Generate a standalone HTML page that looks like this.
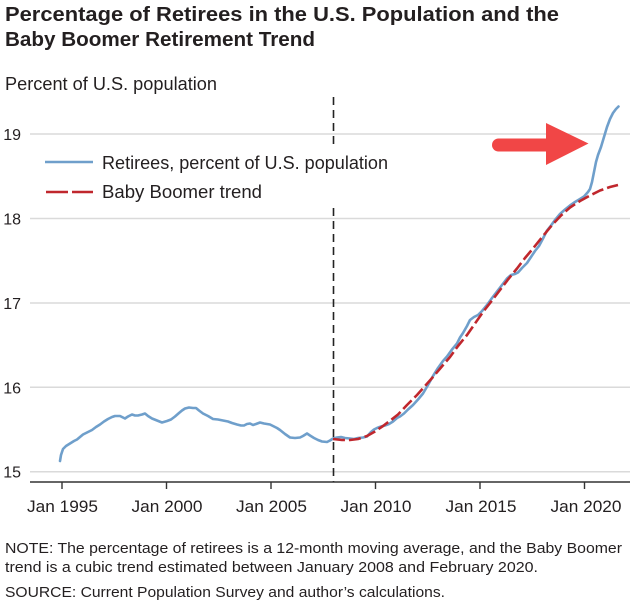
<!DOCTYPE html>
<html>
<head>
<meta charset="utf-8">
<style>
  html,body{margin:0;padding:0;background:#fff;}
  svg{display:block;}
  text{font-family:"Liberation Sans", Arial, sans-serif; fill:#231f20;}
</style>
</head>
<body>
<svg width="630" height="605" viewBox="0 0 630 605" xmlns="http://www.w3.org/2000/svg">
  <!-- Title -->
  <text x="5" y="21" font-size="20" font-weight="bold" textLength="554" lengthAdjust="spacingAndGlyphs">Percentage of Retirees in the U.S. Population and the</text>
  <text x="5" y="46" font-size="20" font-weight="bold" textLength="310" lengthAdjust="spacingAndGlyphs">Baby Boomer Retirement Trend</text>

  <!-- Axis title -->
  <text x="5" y="90" font-size="18" textLength="212" lengthAdjust="spacingAndGlyphs">Percent of U.S. population</text>

  <!-- Gridlines -->
  <g stroke="#dadada" stroke-width="1.5">
    <line x1="30" y1="134" x2="630" y2="134"/>
    <line x1="30" y1="218.5" x2="630" y2="218.5"/>
    <line x1="30" y1="303" x2="630" y2="303"/>
    <line x1="30" y1="387.3" x2="630" y2="387.3"/>
    <line x1="30" y1="471.7" x2="630" y2="471.7"/>
  </g>

  <!-- Y labels -->
  <g font-size="16" text-anchor="end">
    <text x="21" y="140">19</text>
    <text x="21" y="224.5">18</text>
    <text x="21" y="309">17</text>
    <text x="21" y="393.3">16</text>
    <text x="21" y="477.7">15</text>
  </g>

  <!-- Vertical dashed line at Jan 2008 -->
  <g stroke="#222" stroke-width="1.6" stroke-dasharray="8 5">
    <line x1="333.5" y1="97" x2="333.5" y2="147"/>
    <line x1="333.5" y1="208" x2="333.5" y2="482"/>
  </g>

  <!-- X axis -->
  <line x1="30" y1="482" x2="630" y2="482" stroke="#333" stroke-width="1.6"/>
  <g stroke="#333" stroke-width="1.4">
    <line x1="62" y1="482" x2="62" y2="489"/>
    <line x1="166.5" y1="482" x2="166.5" y2="489"/>
    <line x1="271" y1="482" x2="271" y2="489"/>
    <line x1="375.5" y1="482" x2="375.5" y2="489"/>
    <line x1="480" y1="482" x2="480" y2="489"/>
    <line x1="584.5" y1="482" x2="584.5" y2="489"/>
  </g>
  <g font-size="17" text-anchor="middle">
    <text x="62.5" y="512" textLength="71" lengthAdjust="spacingAndGlyphs">Jan 1995</text>
    <text x="167" y="512" textLength="71" lengthAdjust="spacingAndGlyphs">Jan 2000</text>
    <text x="271.5" y="512" textLength="71" lengthAdjust="spacingAndGlyphs">Jan 2005</text>
    <text x="376" y="512" textLength="71" lengthAdjust="spacingAndGlyphs">Jan 2010</text>
    <text x="481" y="512" textLength="71" lengthAdjust="spacingAndGlyphs">Jan 2015</text>
    <text x="586" y="512" textLength="71" lengthAdjust="spacingAndGlyphs">Jan 2020</text>
  </g>

  <!-- Blue series -->
  <polyline fill="none" stroke="#6f9fcb" stroke-width="2.6" stroke-linejoin="round" stroke-linecap="round" points="
60,461 61,455 63,449 66,446 70,443.5 74,441 77,439.5 80,437 83,434.5 87,432.5 92,430 96,427 100,424.5 104,421.5 108,419 112,417 115,416 120,416 125,418.5 128,416.5 132,414.5 135,415.5 138,415.5 142,414.5 145,413.5 148,416 152,418.5 157,420.5 162,422.5 167,421 171,419.5 175,416.5 179,413 182,410.5 185,408.5 189,407.5 193,408 196,408 199,410.5 203,413.5 208,416 213,419 218,419.5 223,420.5 228,421.5 232,423 237,424.5 241,425.5 244,425.5 247,424 250,423.5 253,425 256,424 260,422.5 264,423.5 267,424 270,424.5 274,426.5 277,428 280,430 285,434 290,437.5 295,438 300,437.5 303,436 307,433.5 310,435.5 314,438 318,440 322,441.5 327,442 330,440.5 333,438.5 337,437.5 341,437 345,438 350,438.5 354,439 358,438 363,437.5 367,436.5 371,432 374,429.5 377,428 381,426.5 385,425.5 389,424 393,421.5 397,418 400,416.5 404,413.5 408,409.5 413,405 418,399.5 423,393.5 428,385 433,376 438,368 443,361 447,356.5 452,349.5 457,343.5 460,337.5 463,333 467,326 470,320 474,317 478,315 482,311 487,305 492,298 497,291.5 502,285 507,278.5 511,275 515,274 518,272.5 522,268 527,263 531,257 535,251 539,246 543,238.5 547,230.5 551,225.5 555,220 560,214 565,209.5 570,205.5 575,202 580,199 584,196.5 588,192 590,189 592,182 594,172 596,162 598,155 601,147 604,137 607,127 610,119 613,113 616,109 618.5,106.5"/>

  <!-- Red trend -->
  <polyline fill="none" stroke="#c0272d" stroke-width="2.6" stroke-dasharray="12 4" stroke-linejoin="round" points="
333,439 342,440 350,440 358,439 367,436 375,431.5 383,426 391,420 398,414.5 407,405 417,395 425,386 433,377 441,367.5 450,357 458,346 467,335 475,323.5 483,312 492,300.5 500,290 508,279.5 517,268.5 525,258 533,248.5 543,236 553,224 561,215.5 570,207.5 580,201 590,195.5 600,190.5 610,187 618,185"/>

  <!-- Legend -->
  <line x1="45" y1="162" x2="93" y2="162" stroke="#6f9fcb" stroke-width="2.6"/>
  <line x1="46" y1="192" x2="68" y2="192" stroke="#c0272d" stroke-width="2.6"/>
  <line x1="72" y1="192" x2="93" y2="192" stroke="#c0272d" stroke-width="2.6"/>
  <text x="102" y="169" font-size="18" textLength="286" lengthAdjust="spacingAndGlyphs">Retirees, percent of U.S. population</text>
  <text x="102" y="198" font-size="18" textLength="160" lengthAdjust="spacingAndGlyphs">Baby Boomer trend</text>

  <!-- Red arrow -->
  <path d="M498.5,138.5 L548,138.5 L548,151.5 L498.5,151.5 A6.5,6.5 0 0 1 498.5,138.5 Z" fill="#f14646"/>
  <polygon points="546,123 588.5,143.5 546,165" fill="#f14646"/>

  <!-- Notes -->
  <text x="5" y="553" font-size="15" textLength="617" lengthAdjust="spacingAndGlyphs">NOTE: The percentage of retirees is a 12-month moving average, and the Baby Boomer</text>
  <text x="5" y="572" font-size="15" textLength="533" lengthAdjust="spacingAndGlyphs">trend is a cubic trend estimated between January 2008 and February 2020.</text>
  <text x="5" y="597" font-size="15" textLength="440" lengthAdjust="spacingAndGlyphs">SOURCE: Current Population Survey and author’s calculations.</text>
</svg>
</body>
</html>
